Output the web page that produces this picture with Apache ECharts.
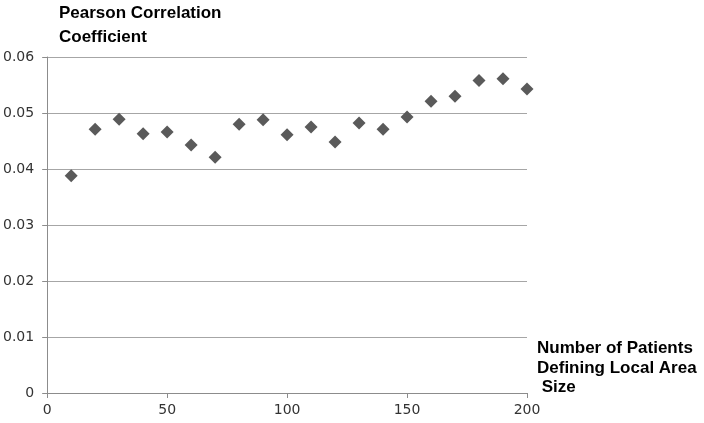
<!DOCTYPE html>
<html>
<head>
<meta charset="utf-8">
<script src="https://cdn.jsdelivr.net/npm/echarts@6/dist/echarts.min.js"></script>
<style>
  html, body { margin: 0; padding: 0; background: #fff; }
  #main { width: 704px; height: 423px; }
</style>
</head>
<body>
<div id="main"></div>
<script>
// patients defining local area size (x) and pearson coefficient (y)
var areaSize = [10, 20, 30, 40, 50, 60, 70, 80, 90, 100, 110, 120, 130, 140, 150, 160, 170, 180, 190, 200];
var pearson = [0.0388, 0.0471, 0.0489, 0.0463, 0.0466, 0.0443, 0.0421, 0.0480, 0.0488, 0.0461,
               0.0475, 0.0448, 0.0482, 0.0471, 0.0493, 0.0521, 0.0530, 0.0558, 0.0561, 0.0543];
var yTitle = 'Pearson Correlation\nCoefficient';
var xTitle = 'Number of Patients\nDefining Local Area\n Size';

var points = [];
for (var i = 0; i < areaSize.length; i++) {
    points.push([areaSize[i], pearson[i]]);
}

var myChart = echarts.init(document.getElementById('main'));
var option = {
    backgroundColor: '#fff',
    animation: false,
    title: [
        {
            text: yTitle,
            left: 59, top: 1, padding: 0,
            textStyle: { fontFamily: 'Liberation Sans', fontWeight: 'bold', fontSize: 17, lineHeight: 24, color: '#000' }
        },
        {
            text: xTitle,
            left: 537, top: 339, padding: 0,
            textStyle: { fontFamily: 'Liberation Sans', fontWeight: 'bold', fontSize: 17, lineHeight: 19.5, color: '#000' }
        }
    ],
    grid: { left: 47, right: 177, top: 57, bottom: 30 },
    xAxis: {
        type: 'value',
        min: 0, max: 200, interval: 50,
        axisLine: { lineStyle: { color: '#8c8c8c' } },
        axisTick: { show: true, length: 5, lineStyle: { color: '#8c8c8c' } },
        axisLabel: { fontFamily: 'DejaVu Sans', fontSize: 14, color: '#333', margin: 10 },
        splitLine: { show: false }
    },
    yAxis: {
        type: 'value',
        min: 0, max: 0.06, interval: 0.01,
        axisLine: { show: true, lineStyle: { color: '#8c8c8c' } },
        axisTick: { show: true, length: 5, lineStyle: { color: '#8c8c8c' } },
        axisLabel: {
            fontFamily: 'DejaVu Sans', fontSize: 14, color: '#333', margin: 13,
            formatter: function (v) { return v === 0 ? '0' : v.toFixed(2); }
        },
        splitLine: { lineStyle: { color: '#a6a6a6' } }
    },
    series: [{
        type: 'scatter',
        symbol: 'diamond',
        symbolSize: 13,
        itemStyle: { color: '#5a5a5a', opacity: 1 },
        data: points
    }]
};
myChart.setOption(option);
</script>
</body>
</html>
